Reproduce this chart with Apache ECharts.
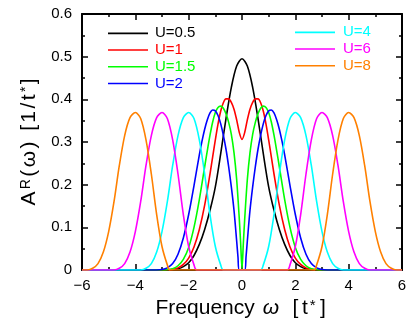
<!DOCTYPE html>
<html>
<head>
<meta charset="utf-8">
<script src="https://cdn.jsdelivr.net/npm/echarts@6/dist/echarts.min.js"></script>
<style>
html,body{margin:0;padding:0;background:#fff;}
#chart{width:415px;height:327px;}
</style>
</head>
<body>
<div id="chart"></div>
<script>
// Tick labels
const xTicks = [-6, -4, -2, 0, 2, 4, 6];
const yTicks = [0, 0.1, 0.2, 0.3, 0.4, 0.5, 0.6];
const seriesNames = ['U=0.5', 'U=1', 'U=1.5', 'U=2', 'U=4', 'U=6', 'U=8'];
const seriesColors = ['#000000', '#ff0000', '#00ff00', '#0000ff', '#00ffff', '#ff00ff', '#ff8000'];

// [frequency ω, A(ω)]
const U05 = [[-6,0],[-2.8,0],[-2.6,0.001],[-2.4,0.003],[-2.2,0.008],[-2.0,0.017],[-1.8,0.034],[-1.6,0.060],[-1.4,0.095],[-1.2,0.140],[-1.0,0.195],[-0.8,0.272],[-0.6,0.355],[-0.4,0.428],[-0.2,0.478],[0,0.495],[0.2,0.478],[0.4,0.428],[0.6,0.355],[0.8,0.272],[1.0,0.195],[1.2,0.140],[1.4,0.095],[1.6,0.060],[1.8,0.034],[2.0,0.017],[2.2,0.008],[2.4,0.003],[2.6,0.001],[2.8,0],[6,0]];
const U1 = [[-6,0],[-2.8,0],[-2.6,0.0015],[-2.4,0.005],[-2.2,0.013],[-2.0,0.028],[-1.8,0.054],[-1.6,0.095],[-1.4,0.152],[-1.2,0.225],[-1.1,0.265],[-1.0,0.305],[-0.9,0.342],[-0.8,0.372],[-0.7,0.392],[-0.6,0.401],[-0.5,0.401],[-0.4,0.393],[-0.3,0.377],[-0.2,0.352],[-0.1,0.322],[0,0.306],[0.1,0.322],[0.2,0.352],[0.3,0.377],[0.4,0.393],[0.5,0.401],[0.6,0.401],[0.7,0.392],[0.8,0.372],[0.9,0.342],[1.0,0.305],[1.1,0.265],[1.2,0.225],[1.4,0.152],[1.6,0.095],[1.8,0.054],[2.0,0.028],[2.2,0.013],[2.4,0.005],[2.6,0.0015],[2.8,0],[6,0]];
const U15 = [[-6,0],[-3.0,0],[-2.8,0.0005],[-2.6,0.003],[-2.4,0.010],[-2.2,0.025],[-2.0,0.053],[-1.8,0.100],[-1.6,0.165],[-1.4,0.242],[-1.3,0.280],[-1.2,0.316],[-1.1,0.347],[-1.0,0.369],[-0.9,0.381],[-0.8,0.384],[-0.7,0.379],[-0.6,0.366],[-0.5,0.346],[-0.4,0.318],[-0.3,0.275],[-0.2,0.212],[-0.1,0.118],[-0.05,0.062],[0,0.004],[0.05,0.062],[0.1,0.118],[0.2,0.212],[0.3,0.275],[0.4,0.318],[0.5,0.346],[0.6,0.366],[0.7,0.379],[0.8,0.384],[0.9,0.381],[1.0,0.369],[1.1,0.347],[1.2,0.316],[1.3,0.280],[1.4,0.242],[1.6,0.165],[1.8,0.100],[2.0,0.053],[2.2,0.025],[2.4,0.010],[2.6,0.003],[2.8,0.0005],[3.0,0],[6,0]];
const U2 = [[-6,0],[-3.2,0],[-3.0,0.001],[-2.8,0.005],[-2.6,0.015],[-2.4,0.037],[-2.2,0.075],[-2.0,0.130],[-1.8,0.198],[-1.6,0.270],[-1.5,0.302],[-1.4,0.330],[-1.3,0.352],[-1.2,0.368],[-1.1,0.375],[-1.0,0.373],[-0.9,0.362],[-0.8,0.343],[-0.7,0.316],[-0.6,0.283],[-0.5,0.242],[-0.4,0.195],[-0.3,0.140],[-0.2,0.068],[-0.15,0.030],[-0.1,0],[0.1,0],[0.15,0.030],[0.2,0.068],[0.3,0.140],[0.4,0.195],[0.5,0.242],[0.6,0.283],[0.7,0.316],[0.8,0.343],[0.9,0.362],[1.0,0.373],[1.1,0.375],[1.2,0.368],[1.3,0.352],[1.4,0.330],[1.5,0.302],[1.6,0.270],[1.8,0.198],[2.0,0.130],[2.2,0.075],[2.4,0.037],[2.6,0.015],[2.8,0.005],[3.0,0.001],[3.2,0],[6,0]];
const U4 = [[-6,0],[-3.8,0],[-3.6,0.004],[-3.4,0.015],[-3.2,0.042],[-3.0,0.090],[-2.8,0.160],[-2.6,0.245],[-2.4,0.315],[-2.2,0.357],[-2.0,0.369],[-1.8,0.355],[-1.6,0.305],[-1.4,0.225],[-1.2,0.130],[-1.0,0.055],[-0.8,0.012],[-0.7,0],[0.7,0],[0.8,0.012],[1.0,0.055],[1.2,0.130],[1.4,0.225],[1.6,0.305],[1.8,0.355],[2.0,0.369],[2.2,0.357],[2.4,0.315],[2.6,0.245],[2.8,0.160],[3.0,0.090],[3.2,0.042],[3.4,0.015],[3.6,0.004],[3.8,0],[6,0]];
const U6 = [[-6,0],[-4.8,0],[-4.6,0.004],[-4.4,0.015],[-4.2,0.042],[-4.0,0.090],[-3.8,0.160],[-3.6,0.245],[-3.4,0.315],[-3.2,0.357],[-3.0,0.369],[-2.8,0.355],[-2.6,0.305],[-2.4,0.225],[-2.2,0.130],[-2.0,0.055],[-1.8,0.012],[-1.7,0],[1.7,0],[1.8,0.012],[2.0,0.055],[2.2,0.130],[2.4,0.225],[2.6,0.305],[2.8,0.355],[3.0,0.369],[3.2,0.357],[3.4,0.315],[3.6,0.245],[3.8,0.160],[4.0,0.090],[4.2,0.042],[4.4,0.015],[4.6,0.004],[4.8,0],[6,0]];
const U8 = [[-6,0],[-5.8,0],[-5.6,0.004],[-5.4,0.015],[-5.2,0.042],[-5.0,0.090],[-4.8,0.160],[-4.6,0.245],[-4.4,0.315],[-4.2,0.357],[-4.0,0.369],[-3.8,0.355],[-3.6,0.305],[-3.4,0.225],[-3.2,0.130],[-3.0,0.055],[-2.8,0.012],[-2.7,0],[2.7,0],[2.8,0.012],[3.0,0.055],[3.2,0.130],[3.4,0.225],[3.6,0.305],[3.8,0.355],[4.0,0.369],[4.2,0.357],[4.4,0.315],[4.6,0.245],[4.8,0.160],[5.0,0.090],[5.2,0.042],[5.4,0.015],[5.6,0.004],[5.8,0],[6,0]];
const seriesData = [U05, U1, U15, U2, U4, U6, U8];

const FONT = 'Liberation Sans';
const chart = echarts.init(document.getElementById('chart'), null, {renderer: 'canvas'});

function fmtX(v) { return v < 0 ? '\u2212' + Math.abs(v) : String(v); }

const tickCommon = {
  axisTick: {show: true, inside: true, length: 6, lineStyle: {color: '#000', width: 1.5}},
  minorTick: {show: true, splitNumber: 2, length: 3, lineStyle: {color: '#000', width: 1.5}},
  splitLine: {show: false},
  minorSplitLine: {show: false},
  axisLine: {show: true, onZero: false, lineStyle: {color: '#000', width: 2}}
};

const P = [0, 1.2, 0, 1.2];
const yRich = {
  n: {fontSize: 21, fontFamily: FONT, color: '#000', padding: P},
  s: {fontSize: 14, fontFamily: FONT, color: '#000', verticalAlign: 'top', padding: P}
};
const xRich = {
  n: {fontSize: 21, fontFamily: FONT, color: '#000'},
  w: {fontSize: 21, fontFamily: FONT, color: '#000', fontStyle: 'italic', padding: [0, 11, 0, 8]},
  b: {fontSize: 21, fontFamily: FONT, color: '#000', padding: [0, 2.5, 0, 2.5]},
  t: {fontSize: 21, fontFamily: FONT, color: '#000', padding: [0, 1, 0, 1]},
  s: {fontSize: 15, fontFamily: FONT, color: '#000', verticalAlign: 'top', padding: [0, 2, 0, 1]}
};

const legendCommon = {
  orient: 'vertical', itemWidth: 40, itemHeight: 1.6, itemGap: 0, padding: 0,
  icon: 'rect', selectedMode: false
};

const option = {
  animation: false,
  backgroundColor: '#fff',
  grid: {left: 82, right: 13, top: 14, bottom: 57, containLabel: false},
  xAxis: [
    Object.assign({
      type: 'value', min: xTicks[0], max: xTicks[xTicks.length - 1], interval: 2, position: 'bottom',
      axisLabel: {formatter: fmtX, fontSize: 15, color: '#000', margin: 8, fontFamily: FONT},
      name: '{n|Frequency}{w|ω}{b|[}{t|t}{s|*}{b|]}',
      nameLocation: 'middle', nameGap: 24,
      nameTextStyle: {color: '#000', fontFamily: FONT, fontSize: 21, rich: xRich}
    }, tickCommon),
    Object.assign({
      type: 'value', min: xTicks[0], max: xTicks[xTicks.length - 1], interval: 2, position: 'top',
      axisLabel: {show: false}
    }, tickCommon)
  ],
  yAxis: [
    Object.assign({
      type: 'value', min: yTicks[0], max: yTicks[yTicks.length - 1], interval: 0.1, position: 'left',
      axisLabel: {fontSize: 15, color: '#000', margin: 10, fontFamily: FONT},
      name: '{n|A}{s|R}{n|(}{n|ω}{n|)}{n| }{n|[}{n|1}{n|/}{n|t}{s|*}{n|]}',
      nameLocation: 'middle', nameGap: 42, nameRotate: 90,
      nameTextStyle: {color: '#000', fontFamily: FONT, fontSize: 21, rich: yRich}
    }, tickCommon),
    Object.assign({
      type: 'value', min: yTicks[0], max: yTicks[yTicks.length - 1], interval: 0.1, position: 'right',
      axisLabel: {show: false}
    }, tickCommon)
  ],
  legend: [
    Object.assign({
      left: 108, top: 25,
      data: seriesNames.slice(0, 4).map((n, i) => ({
        name: n,
        textStyle: {color: seriesColors[i], fontSize: 15, fontFamily: FONT, lineHeight: 16.7, padding: [0, 0, 0, 2]}
      }))
    }, legendCommon),
    Object.assign({
      left: 295, top: 24,
      data: seriesNames.slice(4).map((n, i) => ({
        name: n,
        textStyle: {color: seriesColors[i + 4], fontSize: 15, fontFamily: FONT, lineHeight: 16.7, padding: [0, 0, 0, 3]}
      }))
    }, legendCommon)
  ],
  series: seriesNames.map((n, i) => ({
    name: n, type: 'line', data: seriesData[i], xAxisIndex: 0, yAxisIndex: 0,
    smooth: 0.3, symbol: 'none', showSymbol: false,
    lineStyle: {color: seriesColors[i], width: 1.6},
    itemStyle: {color: seriesColors[i]},
    z: 2 + i
  }))
};
chart.setOption(option);
</script>
</body>
</html>
